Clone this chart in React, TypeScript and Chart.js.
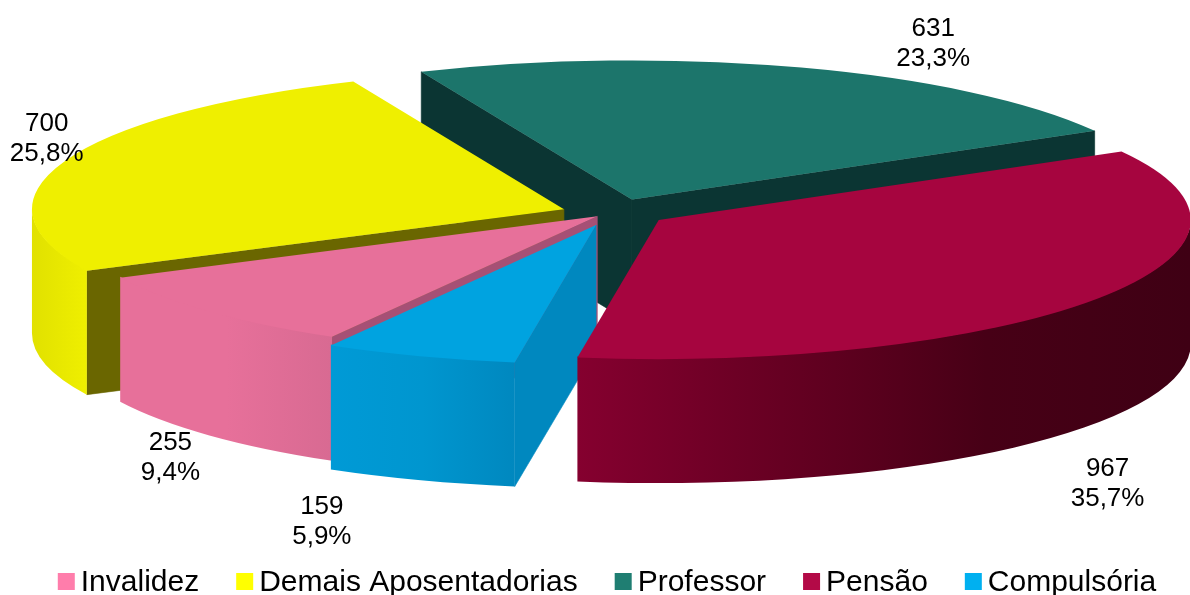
import React, { useEffect, useRef } from "react";
import { Chart, registerables } from "chart.js";

Chart.register(...registerables);

const categories = ["Invalidez", "Demais Aposentadorias", "Professor", "Pensão", "Compulsória"];
const values = [255, 700, 631, 967, 159];

// styles
const legendColors = ["#FF7DAB", "#FFFF00", "#1F7E72", "#B30A47", "#00B0F0"];
const topColors = ["#E7709A", "#EFEF00", "#1C756B", "#A6053F", "#00A3E0"];
const cutWallColors = ["#A65075", "#6A6600", "#0B3533", "#6A0028", "#0088BF"];
const rimStops: string[][] = [
  ["#E7709A", "#E7709A", "#D86A92"],
  ["#E1E100", "#E8E800", "#EFEF00"],
  ["#0B3533", "#0B3533", "#0B3533"],
  ["#85002F", "#660022", "#470016", "#3F0014"],
  ["#009AD6", "#0096CF", "#0088BF"],
];
const explode = [16, 48, 69, 58, 39];
const sliceNudge = [
  [-1, -1],
  [-1, -1],
  [0, 2],
  [1, -3],
  [-1, 1],
];
const labelNudge = [
  [-39, 146],
  [-18, -22],
  [132, -24],
  [11, 185],
  [-98, 166],
];
const paintOrder = [2, 1, 0, 4, 3];
const CX = 610;
const CY = 214.5;
const K = 0.2613;
const RADIUS = 532;
const DEPTH = 124;
const ROTATION = 209.9;
const LABEL_FONT = "26px 'Liberation Sans'";
const LEGEND_FONT = "30px 'Liberation Sans'";

function centerOf(el: any, i: number) {
  const mid = (el.startAngle + el.endAngle) / 2;
  return {
    x: CX + Math.cos(mid) * explode[i] + sliceNudge[i][0],
    y: CY + Math.sin(mid) * explode[i] * K + sliceNudge[i][1],
  };
}

const pie3d = {
  id: "pie3d",
  beforeDatasetDraw(chart: any) {
    const ctx: CanvasRenderingContext2D = chart.ctx;
    const arcs = chart.getDatasetMeta(0).data;
    for (const i of paintOrder) {
      const el = arcs[i];
      const { x, y } = centerOf(el, i);
      const a0 = el.startAngle;
      const a1 = el.endAngle;
      const rx = RADIUS;
      const ry = RADIUS * K;
      const px = (a: number) => x + rx * Math.cos(a);
      const py = (a: number) => y + ry * Math.sin(a);

      const cut = (a: number) => {
        ctx.beginPath();
        ctx.moveTo(x, y);
        ctx.lineTo(px(a), py(a));
        ctx.lineTo(px(a), py(a) + DEPTH);
        ctx.lineTo(x, y + DEPTH);
        ctx.closePath();
        ctx.fillStyle = cutWallColors[i];
        ctx.fill();
        ctx.strokeStyle = cutWallColors[i];
        ctx.lineWidth = 0.6;
        ctx.stroke();
      };
      if (-Math.cos(a0) > 0) cut(a0);
      if (Math.cos(a1) > 0) cut(a1);

      for (const base of [-2 * Math.PI, 0, 2 * Math.PI]) {
        const s = Math.max(a0, base);
        const e = Math.min(a1, base + Math.PI);
        if (e <= s) continue;
        const g = ctx.createLinearGradient(Math.min(px(s), px(e)), 0, Math.max(px(s), px(e)), 0);
        const stops = rimStops[i];
        stops.forEach((c, n) => g.addColorStop(n / (stops.length - 1), c));
        ctx.beginPath();
        ctx.ellipse(x, y - 1, rx, ry, 0, s, e, false);
        ctx.ellipse(x, y + DEPTH, rx, ry, 0, e, s, true);
        ctx.closePath();
        ctx.fillStyle = g;
        ctx.fill();
      }

      ctx.save();
      ctx.translate(x, y);
      ctx.scale(1, K);
      ctx.translate(-el.x, -el.y);
      el.draw(ctx);
      ctx.restore();
    }
    return false;
  },
  afterDraw(chart: any) {
    const ctx: CanvasRenderingContext2D = chart.ctx;
    const arcs = chart.getDatasetMeta(0).data;
    const total = values.reduce((a, b) => a + b, 0);
    ctx.save();
    ctx.fillStyle = "#000";
    ctx.textAlign = "center";
    ctx.textBaseline = "middle";
    ctx.font = LABEL_FONT;
    arcs.forEach((el: any, i: number) => {
      const { x, y } = centerOf(el, i);
      const mid = (el.startAngle + el.endAngle) / 2;
      const lx = x + RADIUS * Math.cos(mid) + labelNudge[i][0];
      const ly = y + RADIUS * K * Math.sin(mid) + labelNudge[i][1];
      ctx.fillText(String(values[i]), lx, ly - 15);
      ctx.fillText(((values[i] / total) * 100).toFixed(1).replace(".", ",") + "%", lx, ly + 15);
    });

    // legend
    ctx.font = LEGEND_FONT;
    ctx.textAlign = "left";
    const box = 17;
    const gap = 6;
    const sep = 37;
    const widths = categories.map((c) => ctx.measureText(c).width);
    const full = widths.reduce((a, w) => a + box + gap + w, 0) + sep * (categories.length - 1);
    let cur = 607 - full / 2;
    categories.forEach((c, i) => {
      ctx.fillStyle = legendColors[i];
      ctx.fillRect(cur, 573, box, box);
      ctx.fillStyle = "#000";
      ctx.fillText(c, cur + box + gap, 583);
      cur += box + gap + widths[i] + sep;
    });
    ctx.restore();
  },
};

export default function App() {
  const ref = useRef<HTMLCanvasElement>(null);
  useEffect(() => {
    const chart = new Chart(ref.current as HTMLCanvasElement, {
      type: "pie",
      data: {
        labels: categories,
        datasets: [{ data: values, backgroundColor: topColors, borderWidth: 0 }],
      },
      options: {
        responsive: false,
        animation: false,
        radius: RADIUS,
        rotation: ROTATION,
        events: [],
        plugins: { legend: { display: false }, tooltip: { enabled: false } },
      } as any,
      plugins: [pie3d],
    });
    return () => chart.destroy();
  }, []);
  return (
    <div style={{ position: "absolute", left: 0, top: 0, width: 1190, height: 595, background: "#fff" }}>
      <canvas ref={ref} width={1190} height={595} style={{ display: "block" }} />
    </div>
  );
}
